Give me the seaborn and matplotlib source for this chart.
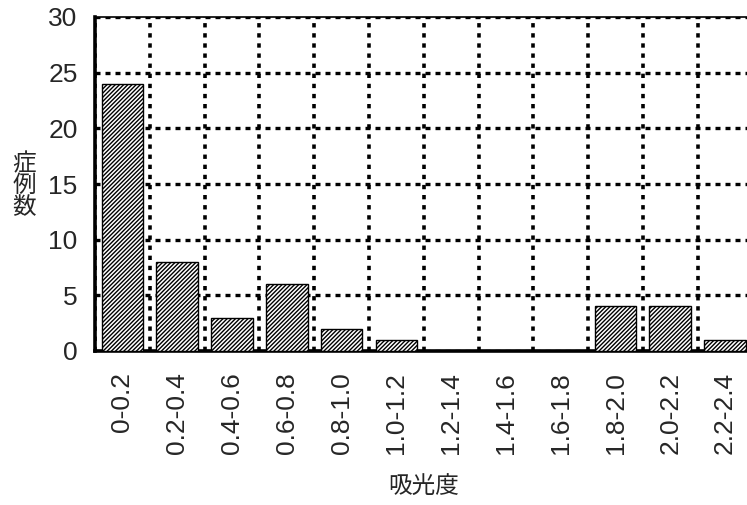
import matplotlib
matplotlib.use('Agg')
import matplotlib.pyplot as plt
import seaborn as sns
from matplotlib.ticker import FixedLocator

# 吸光度の区間と症例数
bins = ['0-0.2', '0.2-0.4', '0.4-0.6', '0.6-0.8', '0.8-1.0', '1.0-1.2',
        '1.2-1.4', '1.4-1.6', '1.6-1.8', '1.8-2.0', '2.0-2.2', '2.2-2.4']
counts = [24, 8, 3, 6, 2, 1, 0, 0, 0, 4, 4, 1]
y_ticks = [0, 5, 10, 15, 20, 25, 30]

sns.set_style('white')
plt.rcParams['font.family'] = ['Liberation Sans', 'Noto Sans CJK JP']
plt.rcParams['hatch.linewidth'] = 1.0

fig = plt.figure(figsize=(7.47, 5.05), dpi=100)
ax = fig.add_axes([95 / 747, 1 - 351 / 505, 1 - 95 / 747, (351 - 17) / 505])

sns.barplot(x=bins, y=counts, color='white', edgecolor='black',
            linewidth=1.0, width=0.76, ax=ax, zorder=3)
for p in ax.patches:
    p.set_hatch('/' * 8)

ax.set_ylim(0, 30)
ax.set_xlim(-0.5, 11.4)
ax.set_yticks(y_ticks)
ax.xaxis.set_minor_locator(FixedLocator([i - 0.5 for i in range(len(bins) + 1)]))

# 点線グリッド
ax.set_axisbelow(True)
ax.grid(which='minor', axis='x', color='black', linestyle=(0, (1.2, 1.6)), linewidth=2.6)
ax.grid(which='major', axis='y', color='black', linestyle=(0, (1.5, 1.5)), linewidth=2.4)
ax.grid(which='major', axis='x', visible=False)

for s in ['left', 'bottom']:
    ax.spines[s].set_linewidth(2.6)
    ax.spines[s].set_color('black')
ax.spines['top'].set_linewidth(1.2)
ax.spines['top'].set_color('black')
ax.spines['right'].set_visible(False)

ax.tick_params(axis='x', which='major', length=0, labelsize=19, labelrotation=90, pad=15)
ax.tick_params(axis='x', which='minor', length=9, width=2.6, direction='out', color='black')
ax.tick_params(axis='y', which='major', length=19, width=2.6, direction='inout',
               labelsize=19, pad=3, color='black')
ax.set_xlabel('')
ax.set_ylabel('')

fig.text(24 / 747, 1 - 186 / 505, '症\n例\n数', ha='center', va='center',
         fontsize=17, linespacing=1.0)
fig.text(424 / 747, 1 - 487 / 505, '吸光度', ha='center', va='center', fontsize=17)

fig.savefig('out.png', dpi=100)
